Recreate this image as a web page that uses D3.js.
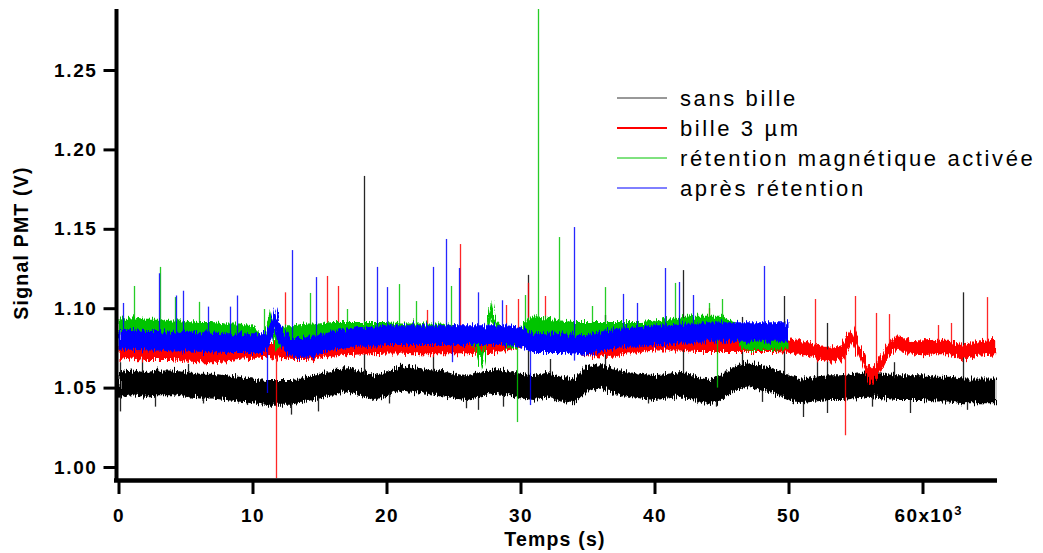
<!DOCTYPE html>
<html><head><meta charset="utf-8">
<script src="https://cdn.jsdelivr.net/npm/d3@7"></script>
<style>body{margin:0;background:#fff} svg{display:block}</style>
</head><body><svg id="c" width="1043" height="553"></svg>
<script>
// ---- data (time in 10^3 s, signal in V) ----
const seriesNames = ["sans bille", "bille 3 µm", "rétention magnétique activée", "après rétention"];
const seriesColors = ["#000000", "#ff0000", "#00c400", "#0000ff"];
const xTicks = [0, 10, 20, 30, 40, 50, 60];
const yTicks = [1.00, 1.05, 1.10, 1.15, 1.20, 1.25];
// approximate half-width of the noise band of each trace (V)
const noiseHalf = [0.0078, 0.0046, 0.0053, 0.0062];

const sansBille = [[0,1.052],[1,1.053],[2,1.052],[3,1.053],[4,1.053],[5,1.052],[6,1.051],[7,1.051],[8,1.050],[9,1.049],[10,1.048],[11,1.047],[12,1.047],[13,1.047],[14,1.049],[15,1.051],[16,1.053],[17,1.055],[18,1.053],[19,1.050],[20,1.052],[21,1.056],[22,1.055],[23,1.054],[24,1.053],[25,1.051],[26,1.050],[27,1.052],[28,1.054],[29,1.053],[30,1.051],[31,1.050],[32,1.052],[33,1.049],[34,1.048],[35,1.056],[36,1.057],[37,1.054],[38,1.052],[39,1.051],[40,1.050],[41,1.051],[42,1.052],[43,1.050],[44,1.047],[45,1.050],[46,1.056],[47,1.058],[48,1.056],[49,1.054],[50,1.050],[51,1.048],[52,1.049],[53,1.050],[54,1.050],[55,1.051],[56,1.052],[57,1.051],[58,1.050],[59,1.050],[60,1.050],[61,1.049],[62,1.049],[63,1.048],[64,1.048],[65.5,1.048]];
const bille3um = [[0,1.072],[1,1.073],[2,1.072],[3,1.072],[4,1.072],[5,1.071],[6,1.0705],[7,1.0705],[8,1.071],[9,1.072],[10,1.073],[11,1.074],[12,1.073],[13,1.072],[14,1.072],[15,1.073],[16,1.074],[17,1.075],[18,1.0755],[19,1.0756],[20,1.076],[21,1.076],[22,1.0756],[23,1.0756],[24,1.0756],[25,1.0756],[26,1.0756],[27,1.076],[28,1.0765],[29,1.078],[30,1.080],[31,1.080],[32,1.078],[33,1.077],[34,1.076],[35,1.075],[36,1.074],[37,1.074],[38,1.076],[39,1.077],[40,1.078],[41,1.078],[42,1.078],[43,1.077],[44,1.077],[45,1.077],[46,1.077],[47,1.077],[48,1.077],[49,1.077],[50,1.0765],[51,1.075],[52,1.073],[53,1.0705],[54,1.072],[54.8,1.083],[55.6,1.067],[56.1,1.057],[56.6,1.061],[57.3,1.072],[58,1.079],[59,1.0756],[60,1.075],[61,1.0756],[62,1.0756],[63,1.072],[64,1.0745],[65.5,1.0756]];
const retentionActive = [[0,1.088],[1,1.089],[2,1.088],[3,1.088],[4,1.087],[5,1.087],[6,1.086],[7,1.086],[8,1.085],[9,1.085],[10,1.084],[10.8,1.077],[11.3,1.093],[11.8,1.079],[12.5,1.084],[13,1.084],[14,1.085],[15,1.085],[16,1.086],[17,1.086],[18,1.086],[19,1.086],[20,1.086],[21,1.085],[22,1.085],[23,1.085],[24,1.085],[25,1.084],[26,1.083],[26.7,1.080],[27.1,1.066],[27.4,1.080],[27.8,1.100],[28.1,1.088],[28.8,1.081],[29.5,1.080],[30,1.082],[30.5,1.088],[31,1.089],[32,1.088],[33,1.087],[34,1.086],[35,1.086],[36,1.086],[37,1.086],[38,1.086],[39,1.086],[40,1.087],[41,1.088],[42,1.089],[43,1.090],[44,1.090],[45,1.090],[46,1.086],[46.5,1.080],[47,1.079],[48,1.079],[49,1.079],[50,1.080]];
const apresRetention = [[0,1.080],[1,1.080],[2,1.0795],[3,1.0795],[4,1.079],[5,1.079],[6,1.0787],[7,1.0785],[8,1.078],[9,1.078],[10,1.078],[10.9,1.078],[11.5,1.086],[11.7,1.094],[11.9,1.086],[12.5,1.078],[13,1.075],[14,1.075],[15,1.077],[16,1.080],[17,1.081],[18,1.082],[19,1.082],[20,1.083],[21,1.083],[22,1.083],[23,1.083],[24,1.083],[25,1.083],[26,1.083],[27,1.083],[28,1.083],[29,1.083],[30,1.082],[31,1.078],[32,1.078],[33,1.078],[34,1.077],[35,1.077],[36,1.079],[37,1.081],[38,1.082],[39,1.082],[40,1.083],[41,1.083],[42,1.084],[43,1.084],[44,1.085],[45,1.085],[46,1.085],[47,1.085],[48,1.085],[49,1.085],[50,1.085]];

// isolated spikes [time, peak value]
const spikesSansBille = [[0.1,1.066],[1.75,1.069],[5.2,1.065],[18.32,1.1833],[23.5,1.0705],[30.56,1.121],[32.2,1.068],[36.3,1.0957],[42.13,1.124],[46.5,1.0945],[49.66,1.1077],[52.1,1.0705],[52.87,1.0907],[57.9,1.066],[63.02,1.110],[0.1,1.035],[2.7,1.038],[6.3,1.040],[9.6,1.039],[12.9,1.033],[14.9,1.035],[20.2,1.040],[25.9,1.037],[26.8,1.036],[28.7,1.038],[34.0,1.040],[39.5,1.040],[44.6,1.038],[48.0,1.041],[51.1,1.0315],[52.9,1.034],[56.2,1.038],[59.1,1.034],[63.3,1.036]];
const spikesBille = [[12.43,1.110],[15.56,1.1203],[16.38,1.114],[23.02,1.0989],[25.49,1.1404],[28.92,1.102],[29.81,1.1058],[30.56,1.116],[31.83,1.1077],[44.1,1.100],[51.98,1.1058],[54.96,1.1077],[56.53,1.097],[57.5,1.0963],[61.16,1.0894],[62.13,1.0907],[64.81,1.107],[11.75,0.993],[54.2,1.020]];
const spikesActive = [[1.16,1.114],[3.10,1.126],[4.22,1.107],[6.01,1.104],[10.86,1.0995],[14.29,1.1096],[17.05,1.0995],[20.93,1.1152],[22.2,1.1045],[24.81,1.114],[30.34,1.1083],[31.31,1.2884],[32.87,1.1448],[35.34,1.1014],[36.31,1.1133],[41.53,1.1159],[44.07,1.1033],[45.04,1.1058],[29.74,1.0283],[44.66,1.050]];
const spikesApres = [[0.34,1.1033],[3.02,1.122],[4.29,1.108],[4.81,1.111],[6.68,1.101],[8.32,1.101],[8.84,1.108],[12.95,1.1366],[14.74,1.1196],[19.29,1.126],[20.04,1.1133],[23.47,1.126],[24.44,1.1436],[25.41,1.1253],[26.83,1.110],[28.62,1.105],[33.99,1.1511],[37.65,1.109],[38.69,1.1033],[40.78,1.1253],[41.83,1.1165],[42.87,1.1083],[48.17,1.1266],[11.08,1.0466],[30.71,1.039],[24.9,1.066],[34.0,1.067]];

const traces = [sansBille, bille3um, retentionActive, apresRetention];
const spikes = [spikesSansBille, spikesBille, spikesActive, spikesApres];

// ---- drawing ----
const svg = d3.select("#c");
const x = d3.scaleLinear().domain([0, 60]).range([118.5, 922.5]);
const y = d3.scaleLinear().domain([1.00, 1.25]).range([467, 70]);
const FONT = "'Liberation Sans', Arial, sans-serif";

// rendering effect: roughen the edges of the noise bands (purely visual)
const defs = svg.append("defs");
const flt = defs.append("filter").attr("id", "rough")
  .attr("x", "-2%").attr("y", "-30%").attr("width", "104%").attr("height", "160%");
flt.append("feTurbulence").attr("type", "fractalNoise").attr("baseFrequency", "0.9 0.04")
  .attr("numOctaves", 2).attr("seed", 7).attr("result", "n");
flt.append("feDisplacementMap").attr("in", "SourceGraphic").attr("in2", "n")
  .attr("scale", 12).attr("xChannelSelector", "G").attr("yChannelSelector", "R");

const plot = svg.append("g");
traces.forEach((tr, i) => {
  const col = seriesColors[i];
  const h = noiseHalf[i];
  const area = d3.area().x(d => x(d[0])).y0(d => y(d[1] - h)).y1(d => y(d[1] + h));
  plot.append("path").datum(tr).attr("d", area).attr("fill", col)
    .attr("filter", "url(#rough)");
  const ts = tr.map(d => d[0]), vs = tr.map(d => d[1]);
  const base = t => {
    const j = Math.max(1, Math.min(ts.length - 1, d3.bisectLeft(ts, t)));
    const f = (t - ts[j - 1]) / (ts[j] - ts[j - 1]);
    return vs[j - 1] + f * (vs[j] - vs[j - 1]);
  };
  plot.append("g").selectAll("line").data(spikes[i]).join("line")
    .attr("x1", d => Math.round(x(d[0])) + 0.5).attr("x2", d => Math.round(x(d[0])) + 0.5)
    .attr("y1", d => y(base(d[0]))).attr("y2", d => y(d[1]))
    .attr("stroke", col).attr("stroke-width", 1.3).attr("stroke-opacity", 0.85);
});

// axes
const yAxis = svg.append("g").attr("transform", "translate(116.5,0)")
  .call(d3.axisLeft(y).tickValues(yTicks).tickSize(13).tickPadding(6).tickFormat(d3.format(".2f")));
yAxis.select(".domain").remove();
yAxis.selectAll(".tick line").attr("stroke", "#000").attr("stroke-width", 3);
yAxis.selectAll(".tick text").attr("font-family", FONT).attr("font-size", 19)
  .attr("font-weight", "bold").attr("letter-spacing", "1.6px").attr("fill", "#000");

const xAxis = svg.append("g").attr("transform", "translate(0,480.5)")
  .call(d3.axisBottom(x).tickValues(xTicks).tickSize(13.5).tickPadding(15).tickFormat(d => d));
xAxis.select(".domain").remove();
xAxis.selectAll(".tick line").attr("stroke", "#000").attr("stroke-width", 3);
xAxis.selectAll(".tick text").attr("font-family", FONT).attr("font-size", 19)
  .attr("font-weight", "bold").attr("letter-spacing", "1.4px").attr("fill", "#000");
xAxis.selectAll(".tick text").filter(d => d === 60).each(function() {
  const t = d3.select(this).text(null).attr("dx", "0.3em");
  t.append("tspan").text("60x10");
  t.append("tspan").text("3").attr("font-size", 13).attr("dy", "-0.6em");
});

svg.append("line").attr("x1", 116.5).attr("x2", 116.5).attr("y1", 9).attr("y2", 482)
  .attr("stroke", "#000").attr("stroke-width", 4);
svg.append("line").attr("x1", 114).attr("x2", 997).attr("y1", 480.5).attr("y2", 480.5)
  .attr("stroke", "#000").attr("stroke-width", 4.5);

// titles
svg.append("text").attr("transform", "translate(28,243) rotate(-90)").attr("text-anchor", "middle")
  .attr("font-family", FONT).attr("font-size", 19.5).attr("font-weight", "bold")
  .attr("letter-spacing", "1.2px").text("Signal PMT (V)");
svg.append("text").attr("x", 555).attr("y", 546).attr("text-anchor", "middle")
  .attr("font-family", FONT).attr("font-size", 19.5).attr("font-weight", "bold")
  .attr("letter-spacing", "1.2px").text("Temps (s)");

// legend
const legendWidths = [1, 2, 1, 1];
const lg = svg.append("g");
seriesNames.forEach((n, i) => {
  const ry = 98 + i * 30;
  lg.append("line").attr("x1", 617).attr("x2", 667).attr("y1", ry).attr("y2", ry)
    .attr("stroke", i === 0 ? "#333" : seriesColors[i]).attr("stroke-width", legendWidths[i]);
  lg.append("text").attr("x", 680).attr("y", ry + 8).attr("font-family", FONT)
    .attr("font-size", 22).attr("letter-spacing", "2.6px").attr("fill", "#000").text(n);
});
</script></body></html>
